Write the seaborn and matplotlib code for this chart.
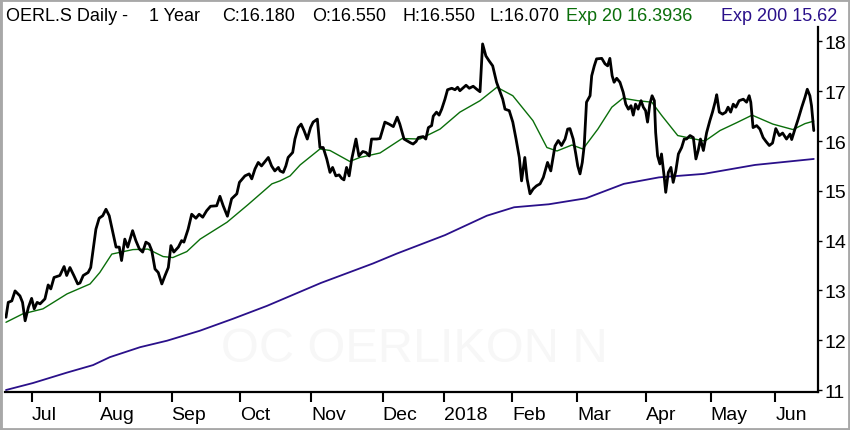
import pandas as pd
import matplotlib.pyplot as plt
import matplotlib.patches as mpatches
import seaborn as sns

# trading calendar (SIX), 1 year to 19 Jun 2018
start, end = '2017-06-21', '2018-06-19'
holidays = ['2017-08-01', '2017-12-25', '2017-12-26', '2018-01-01', '2018-01-02',
            '2018-03-30', '2018-04-02', '2018-05-01', '2018-05-10', '2018-05-21']

# daily close (x = trading day since start)
close_day = [0.0, 0.7, 1.8, 2.8, 4.3, 5.1, 5.9, 6.9, 7.9, 8.7, 9.6, 10.5, 12.0, 13.0, 13.8, 14.8,
             16.6, 17.9, 18.7, 19.7, 20.9, 22.1, 22.8, 23.8, 25.3, 26.1, 27.7, 28.7, 29.8, 30.8,
             31.8, 32.9, 33.9, 34.9, 35.6, 36.6, 37.5, 39.0, 40.0, 41.1, 42.1, 43.1, 44.1, 44.9,
             45.9, 46.9, 48.0, 49.0, 50.0, 50.8, 51.7, 53.1, 54.1, 54.8, 56.1, 57.2, 58.5, 59.5,
             60.6, 61.8, 63.0, 64.9, 65.9, 66.9, 68.2, 69.5, 71.1, 71.9, 73.6, 74.9, 75.7, 76.7,
             77.7, 78.7, 80.8, 81.8, 82.8, 83.9, 84.4, 85.4, 86.2, 86.9, 88.3, 89.0, 90.0, 90.9,
             91.8, 92.8, 93.8, 94.6, 95.9, 96.7, 97.7, 98.8, 99.8, 100.6, 101.6, 102.6, 103.4,
             104.1, 104.9, 105.7, 106.5, 107.8, 108.7, 109.9, 110.9, 111.9, 112.6, 114.2, 115.2,
             116.7, 118.0, 119.3, 120.5, 121.3, 122.6, 123.4, 124.7, 125.4, 126.3, 127.0, 128.5,
             129.3, 130.1, 131.1, 131.6, 132.6, 133.4, 134.2, 135.2, 136.0, 137.3, 138.3, 139.1,
             139.8, 141.7, 142.7, 143.9, 145.0, 146.0, 146.8, 147.8, 148.8, 149.9, 151.1, 153.0,
             153.7, 155.0, 156.1, 157.1, 158.1, 158.8, 159.8, 160.5, 161.4, 162.4, 163.4, 164.5,
             165.5, 166.8, 167.8, 169.1, 170.1, 171.1, 172.2, 173.0, 173.7, 174.7, 175.5, 176.1,
             176.8, 177.5, 178.1, 178.8, 179.9, 180.4, 181.2, 181.9, 183.5, 184.5, 185.3, 186.0,
             186.7, 187.3, 188.1, 189.1, 190.1, 190.9, 191.7, 192.5, 193.2, 193.9, 194.7, 195.6,
             196.3, 197.0, 197.6, 198.3, 199.0, 199.7, 200.1, 200.7, 201.4, 201.9, 202.7, 203.2,
             204.0, 204.8, 205.5, 206.3, 207.1, 208.1, 208.9, 209.6, 210.7, 211.7, 212.5, 213.2,
             213.9, 214.8, 215.8, 216.8, 217.6, 218.4, 218.9, 219.7, 220.7, 221.7, 222.4, 223.2,
             224.0, 224.8, 225.8, 227.1, 228.1, 228.9, 229.4, 230.1, 231.2, 232.2, 233.2, 234.1,
             235.1, 236.1, 237.1, 238.2, 239.2, 240.4, 241.5, 242.0, 243.0, 244.0, 245.1, 246.1,
             246.8, 247.6, 248.1, 248.8]
close = [12.46, 12.76, 12.79, 12.99, 12.89, 12.76, 12.39, 12.66, 12.84, 12.63, 12.76, 12.73,
         12.83, 13.11, 13.03, 13.26, 13.30, 13.48, 13.30, 13.46, 13.30, 13.13, 13.15, 13.30,
         13.36, 13.46, 14.23, 14.45, 14.50, 14.63, 14.50, 14.17, 13.87, 13.87, 13.60, 14.03,
         13.87, 14.20, 14.00, 13.83, 13.77, 13.97, 13.93, 13.80, 13.43, 13.36, 13.13, 13.30,
         13.46, 13.90, 13.77, 13.87, 14.00, 13.97, 14.23, 14.53, 14.45, 14.53, 14.47, 14.60,
         14.69, 14.70, 14.89, 14.70, 14.49, 14.84, 14.94, 15.17, 15.30, 15.34, 15.24, 15.44,
         15.57, 15.50, 15.67, 15.50, 15.40, 15.47, 15.40, 15.37, 15.50, 15.67, 15.77, 16.04,
         16.27, 16.34, 16.21, 16.04, 16.27, 16.38, 16.44, 15.87, 15.87, 15.64, 15.37, 15.47,
         15.30, 15.32, 15.25, 15.22, 15.47, 15.30, 15.64, 16.04, 15.70, 15.79, 15.77, 15.70,
         16.04, 16.04, 16.05, 16.38, 16.34, 16.29, 16.48, 16.34, 16.04, 16.01, 15.96, 15.94,
         15.99, 16.07, 16.09, 16.04, 16.27, 16.31, 16.50, 16.58, 16.52, 16.64, 16.84, 17.03,
         17.06, 17.03, 17.08, 17.01, 17.12, 17.06, 17.10, 17.04, 16.99, 17.95, 17.71, 17.61,
         17.51, 17.18, 16.84, 16.64, 16.61, 16.38, 16.04, 15.67, 15.20, 15.67, 15.24, 14.94,
         15.04, 15.10, 15.14, 15.27, 15.57, 15.40, 15.90, 16.01, 15.91, 16.04, 16.24, 16.25,
         16.04, 15.74, 15.50, 15.34, 15.57, 15.91, 16.78, 16.91, 17.31, 17.51, 17.65, 17.66,
         17.55, 17.51, 17.66, 17.31, 17.18, 17.26, 17.18, 16.98, 16.74, 16.64, 16.71, 16.52,
         16.74, 16.64, 16.81, 16.68, 16.61, 16.38, 16.74, 16.91, 16.81, 16.17, 15.70, 15.54,
         15.74, 15.30, 14.97, 15.37, 15.47, 15.17, 15.40, 15.74, 15.87, 16.04, 16.04, 16.11,
         16.07, 15.64, 15.81, 16.04, 15.81, 16.17, 16.41, 16.58, 16.78, 16.93, 16.58, 16.54,
         16.58, 16.68, 16.58, 16.74, 16.68, 16.81, 16.84, 16.78, 16.91, 16.78, 16.27, 16.31,
         16.24, 16.07, 15.99, 15.91, 15.96, 16.25, 16.11, 16.16, 16.04, 16.14, 16.03, 16.24,
         16.44, 16.68, 16.88, 17.04, 16.91, 16.71, 16.21]

# exponential moving averages
exp20_day = [0.0, 5.2, 11.4, 18.8, 25.9, 28.9, 32.6, 39.1, 43.7, 48.4, 51.4, 55.7, 59.8, 68.1,
             74.5, 81.9, 84.4, 87.5, 90.6, 96.7, 99.8, 105.9, 109.0, 115.2, 122.0, 127.5, 133.7,
             139.8, 146.0, 151.2, 156.1, 162.3, 166.6, 169.7, 174.3, 177.7, 182.3, 186.6, 190.0,
             194.6, 198.9, 202.0, 206.9, 211.3, 215.3, 219.9, 225.1, 229.8, 236.2, 242.4, 246.1,
             248.8]
exp20 = [12.36, 12.53, 12.63, 12.93, 13.13, 13.36, 13.73, 13.82, 13.83, 13.68, 13.66, 13.78,
         14.03, 14.37, 14.72, 15.14, 15.20, 15.30, 15.52, 15.84, 15.81, 15.59, 15.67, 15.76,
         16.05, 16.04, 16.24, 16.58, 16.81, 17.08, 16.91, 16.41, 15.87, 15.80, 15.92, 15.84,
         16.24, 16.68, 16.86, 16.81, 16.78, 16.51, 16.11, 16.05, 16.00, 16.21, 16.37, 16.52,
         16.34, 16.23, 16.35, 16.40]
exp200_day = [0.0, 8.3, 18.8, 26.8, 32.0, 41.3, 49.6, 59.7, 69.9, 80.4, 90.5, 97.0, 113.0,
              120.4, 135.2, 148.1, 156.5, 167.2, 178.6, 190.3, 201.1, 214.9, 230.7, 248.8]
exp200 = [11.00, 11.14, 11.35, 11.50, 11.66, 11.86, 11.99, 12.19, 12.43, 12.69, 12.97, 13.15,
          13.54, 13.74, 14.11, 14.50, 14.67, 14.73, 14.85, 15.14, 15.27, 15.34, 15.52, 15.64]

header = ['OERL.S Daily -', '1 Year', 'C:16.180', 'O:16.550', 'H:16.550', 'L:16.070']
header_x = [6, 149, 222, 312, 402, 490]

green = '#0a6e0a'
indigo = '#2a108a'

days = pd.bdate_range(start, end)
days = days[~days.isin(pd.to_datetime(holidays))]
month_first = pd.Series(range(len(days)), index=days).groupby(days.to_period('M')).first().iloc[1:]
tick_labels = ['2018' if p.month == 1 else p.strftime('%b') for p in month_first.index]

sns.set_style('white')
plt.rcParams['font.family'] = ['Liberation Sans', 'DejaVu Sans']

W, H = 850, 431
fig = plt.figure(figsize=(W / 100, H / 100), dpi=100)
ax = fig.add_axes([5 / W, 1 - 393 / H, 813 / W, 365 / H])

fig.text(414 / W, 1 - 350 / H, 'OC OERLIKON N', fontsize=35, color='#f7f7f7',
         ha='center', va='center', zorder=0)

df_close = pd.DataFrame({'day': close_day, 'price': close})
df_20 = pd.DataFrame({'day': exp20_day, 'price': exp20})
df_200 = pd.DataFrame({'day': exp200_day, 'price': exp200})

sns.lineplot(data=df_200, x='day', y='price', color=indigo, lw=1.3, estimator=None, sort=False, ax=ax)
sns.lineplot(data=df_20, x='day', y='price', color=green, lw=1.0, estimator=None, sort=False, ax=ax)
sns.lineplot(data=df_close, x='day', y='price', color='black', lw=2.0, estimator=None, sort=False, ax=ax)

ax.set_facecolor('none')
ax.set_xlim(-0.3, 250.1)
ax.set_ylim(10.96, 18.29)
ax.set_xlabel('')
ax.set_ylabel('')

for side in ['left', 'top']:
    ax.spines[side].set_visible(False)
for side in ['right', 'bottom']:
    ax.spines[side].set_color('black')
    ax.spines[side].set_linewidth(1.6)

ax.yaxis.tick_right()
ax.set_yticks(range(11, 19))
ax.tick_params(axis='y', right=True, length=3, width=1, pad=2, labelsize=14, colors='black')
ax.set_xticks(month_first.values)
ax.set_xticklabels(tick_labels, ha='left')
ax.tick_params(axis='x', bottom=True, length=7.5, width=1.5, pad=2.5, labelsize=14, colors='black')

base = 1 - 21 / H
for txt, x in zip(header, header_x):
    fig.text(x / W, base, txt, fontsize=13, color='black', va='baseline')
fig.text(566 / W, base, 'Exp 20 16.3936', fontsize=13, color=green, va='baseline')
fig.text(721 / W, base, 'Exp 200 15.62', fontsize=13, color=indigo, va='baseline')

fig.patches.append(mpatches.Rectangle((0, 0), 1, 1, transform=fig.transFigure, fill=False,
                                      edgecolor='#a8a8a8', lw=3.5))

plt.savefig('out.png', dpi=100)
